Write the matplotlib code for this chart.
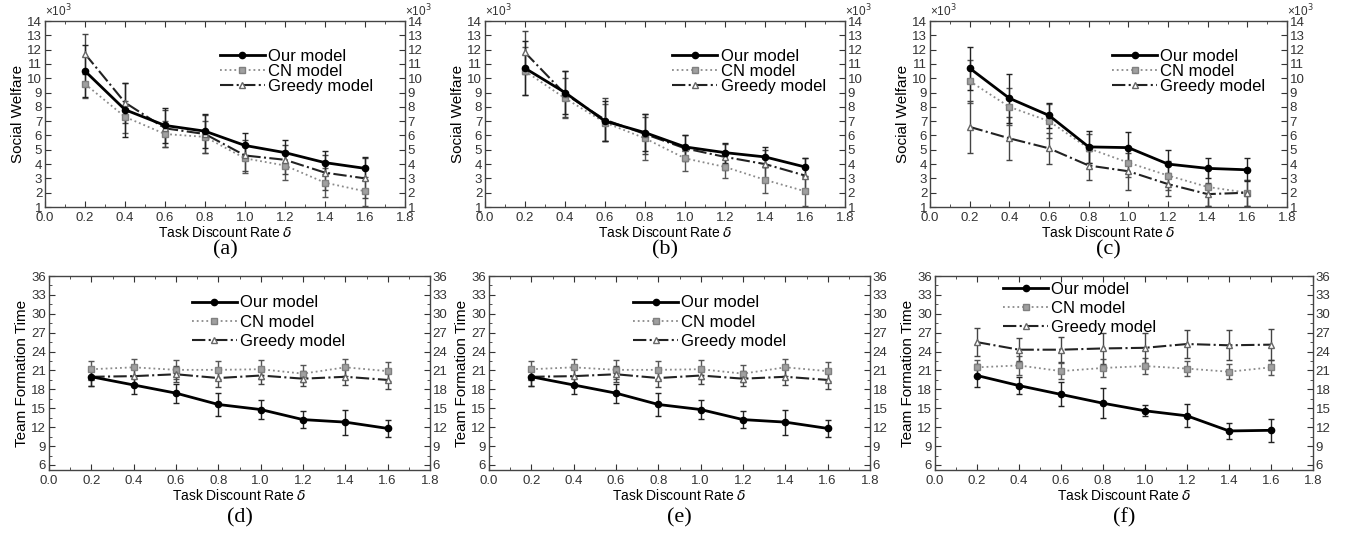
import matplotlib
matplotlib.use("Agg")
import matplotlib.pyplot as plt
from matplotlib.lines import Line2D
from matplotlib.ticker import MultipleLocator

plt.rcParams['font.family'] = ['Liberation Sans', 'DejaVu Sans']

W, H = 1348, 538

delta = [0.2, 0.4, 0.6, 0.8, 1.0, 1.2, 1.4, 1.6]

# social welfare (x10^3)
sw_our_a = [10.5, 7.8, 6.7, 6.3, 5.3, 4.8, 4.1, 3.7]
sw_our_a_err = [1.8, 1.9, 1.2, 1.2, 0.9, 0.9, 0.8, 0.8]
sw_cn_a = [9.6, 7.3, 6.1, 5.9, 4.4, 3.9, 2.7, 2.1]
sw_cn_a_err = [1.0, 1.1, 0.9, 1.1, 1.0, 1.0, 1.0, 1.0]
sw_gr_a = [11.7, 8.3, 6.5, 6.1, 4.6, 4.3, 3.4, 3.0]
sw_gr_a_err = [1.4, 1.4, 1.3, 1.3, 1.1, 1.0, 1.2, 1.4]

sw_our_b = [10.7, 9.0, 7.0, 6.2, 5.2, 4.8, 4.5, 3.8]
sw_our_b_err = [1.9, 1.5, 1.4, 1.3, 0.8, 0.7, 0.7, 0.6]
sw_cn_b = [10.5, 8.6, 6.9, 5.8, 4.4, 3.8, 2.9, 2.1]
sw_cn_b_err = [1.7, 1.4, 1.3, 1.5, 0.9, 0.8, 0.9, 1.0]
sw_gr_b = [11.8, 8.9, 7.1, 6.1, 5.1, 4.5, 4.0, 3.2]
sw_gr_b_err = [1.5, 1.6, 1.5, 1.4, 0.9, 0.9, 1.0, 1.2]

sw_our_c = [10.7, 8.6, 7.4, 5.2, 5.15, 4.0, 3.7, 3.6]
sw_our_c_err = [1.5, 1.7, 0.9, 1.1, 1.1, 1.0, 0.7, 0.8]
sw_cn_c = [9.8, 8.0, 7.0, 5.1, 4.1, 3.2, 2.4, 2.0]
sw_cn_c_err = [1.5, 1.3, 1.2, 1.0, 1.0, 1.0, 1.3, 0.9]
sw_gr_c = [6.6, 5.8, 5.1, 3.9, 3.5, 2.6, 1.9, 2.0]
sw_gr_c_err = [1.8, 1.5, 1.1, 1.0, 1.3, 0.8, 0.8, 0.9]

# team formation time
tf_our_d = [20.0, 18.7, 17.4, 15.6, 14.8, 13.2, 12.8, 11.8]
tf_our_d_err = [1.5, 1.4, 1.5, 1.8, 1.5, 1.4, 2.0, 1.4]
tf_cn_d = [21.2, 21.5, 21.1, 21.1, 21.2, 20.5, 21.5, 20.9]
tf_cn_d_err = [1.3, 1.4, 1.5, 1.4, 1.5, 1.3, 1.3, 1.5]
tf_gr_d = [20.0, 20.1, 20.4, 19.8, 20.2, 19.7, 20.0, 19.5]
tf_gr_d_err = [1.5, 1.2, 1.3, 1.5, 1.4, 1.2, 1.3, 1.4]

tf_our_e = [20.0, 18.7, 17.4, 15.6, 14.8, 13.2, 12.8, 11.8]
tf_our_e_err = [1.5, 1.4, 1.5, 1.8, 1.5, 1.4, 2.0, 1.4]
tf_cn_e = [21.2, 21.5, 21.1, 21.1, 21.2, 20.5, 21.5, 20.9]
tf_cn_e_err = [1.3, 1.4, 1.5, 1.4, 1.5, 1.3, 1.3, 1.5]
tf_gr_e = [20.0, 20.1, 20.4, 19.8, 20.2, 19.7, 20.0, 19.5]
tf_gr_e_err = [1.5, 1.2, 1.3, 1.5, 1.4, 1.2, 1.3, 1.4]

tf_our_f = [20.2, 18.6, 17.2, 15.8, 14.6, 13.8, 11.4, 11.5]
tf_our_f_err = [1.8, 1.4, 1.9, 2.4, 0.9, 1.8, 1.3, 1.8]
tf_cn_f = [21.5, 21.8, 20.9, 21.4, 21.7, 21.3, 20.8, 21.5]
tf_cn_f_err = [1.2, 1.5, 1.3, 1.4, 1.3, 1.2, 1.2, 1.2]
tf_gr_f = [25.5, 24.3, 24.3, 24.5, 24.6, 25.2, 25.0, 25.1]
tf_gr_f_err = [2.2, 1.8, 2.0, 2.4, 2.4, 2.2, 2.4, 2.5]

fig = plt.figure(figsize=(W / 100, H / 100), dpi=100)

STY_OUR = dict(color='black', ls='-', lw=2, marker='o', ms=4.5,
               mfc='black', mec='black')
STY_CN = dict(color='#8a8a8a', ls=':', lw=1.3, marker='s', ms=4,
              mfc='#a0a0a0', mec='#808080')
STY_GR = dict(color='#222222', ls='-.', lw=1.5, marker='^', ms=5,
              mfc='white', mec='#666666')


def box(l, r, t, b):
    return [l / W, 1 - b / H, (r - l) / W, (b - t) / H]


def draw(ax, our, our_e, cn, cn_e, gr, gr_e):
    ax.errorbar(delta, cn, yerr=cn_e, ecolor='#555555', elinewidth=1,
                capsize=2, **STY_CN)
    ax.errorbar(delta, gr, yerr=gr_e, ecolor='#444444', elinewidth=1,
                capsize=2, **STY_GR)
    ax.errorbar(delta, our, yerr=our_e, ecolor='#222222', elinewidth=1,
                capsize=2, **STY_OUR)


def style(ax, ylim, ymaj, ymin, ylabel):
    ax.set_xlim(0, 1.8)
    ax.set_ylim(*ylim)
    ax.xaxis.set_major_locator(MultipleLocator(0.2))
    ax.xaxis.set_minor_locator(MultipleLocator(0.1))
    ax.yaxis.set_major_locator(MultipleLocator(ymaj))
    ax.yaxis.set_minor_locator(MultipleLocator(ymin))
    ax.xaxis.set_major_formatter(plt.FuncFormatter(lambda v, p: f'{v:.1f}'))
    ax.tick_params(which='both', direction='in', top=True, right=True,
                   labelright=True, labelsize=9.5, colors='#333333',
                   labelcolor='#333333', pad=2)
    ax.tick_params(axis='x', pad=3.5)
    ax.tick_params(which='major', length=4)
    ax.tick_params(which='minor', length=2)
    for s in ax.spines.values():
        s.set_color('#444444')
        s.set_linewidth(1)
    ax.set_xlabel('Task Discount Rate $\\delta$', fontsize=10, labelpad=1)
    ax.set_ylabel(ylabel, fontsize=11, labelpad=2)


def legend(ax, anchor, spacing):
    handles = [Line2D([], [], **STY_OUR), Line2D([], [], **STY_CN),
               Line2D([], [], **STY_GR)]
    ax.legend(handles, ['Our model', 'CN model', 'Greedy model'],
              loc='upper left', bbox_to_anchor=anchor, frameon=False,
              fontsize=12, handlelength=2.7, handletextpad=0.2,
              labelspacing=spacing, borderpad=0, borderaxespad=0)


top_boxes = [(45, 405), (485, 845), (930, 1287)]
top_data = [
    (sw_our_a, sw_our_a_err, sw_cn_a, sw_cn_a_err, sw_gr_a, sw_gr_a_err),
    (sw_our_b, sw_our_b_err, sw_cn_b, sw_cn_b_err, sw_gr_b, sw_gr_b_err),
    (sw_our_c, sw_our_c_err, sw_cn_c, sw_cn_c_err, sw_gr_c, sw_gr_c_err),
]
top_tags = ['(a)', '(b)', '(c)']
top_leg = [(0.486, 0.85), (0.52, 0.85), (0.51, 0.85)]

for (l, r), d, tag, anc in zip(top_boxes, top_data, top_tags, top_leg):
    ax = fig.add_axes(box(l, r, 21, 207))
    draw(ax, *d)
    style(ax, (1, 14), 1, 0.5, 'Social Welfare')
    ax.yaxis.set_minor_locator(MultipleLocator(1))
    legend(ax, anc, 0.0)
    ax.text(0.0, 1.01, '×10$^3$', transform=ax.transAxes, fontsize=8.5,
            ha='left', va='bottom', color='#333333')
    ax.text(1.0, 1.01, '×10$^3$', transform=ax.transAxes, fontsize=8.5,
            ha='left', va='bottom', color='#333333')
    fig.text((l + r) / 2 / W, 1 - 250 / H, tag, family='Liberation Serif',
             fontsize=16, ha='center', va='center')

bot_boxes = [(49, 430), (489, 870), (935, 1313)]
bot_data = [
    (tf_our_d, tf_our_d_err, tf_cn_d, tf_cn_d_err, tf_gr_d, tf_gr_d_err),
    (tf_our_e, tf_our_e_err, tf_cn_e, tf_cn_e_err, tf_gr_e, tf_gr_e_err),
    (tf_our_f, tf_our_f_err, tf_cn_f, tf_cn_f_err, tf_gr_f, tf_gr_f_err),
]
bot_tags = ['(d)', '(e)', '(f)']
bot_leg = [(0.375, 0.90), (0.378, 0.90), (0.18, 0.97)]

for (l, r), d, tag, anc in zip(bot_boxes, bot_data, bot_tags, bot_leg):
    ax = fig.add_axes(box(l, r, 276, 470))
    draw(ax, *d)
    style(ax, (5.2, 36), 3, 1.5, 'Team Formation Time')
    legend(ax, anc, 0.25)
    fig.text((l + r) / 2 / W, 1 - 518 / H, tag, family='Liberation Serif',
             fontsize=16, ha='center', va='center')

fig.savefig('out.png', dpi=100)
